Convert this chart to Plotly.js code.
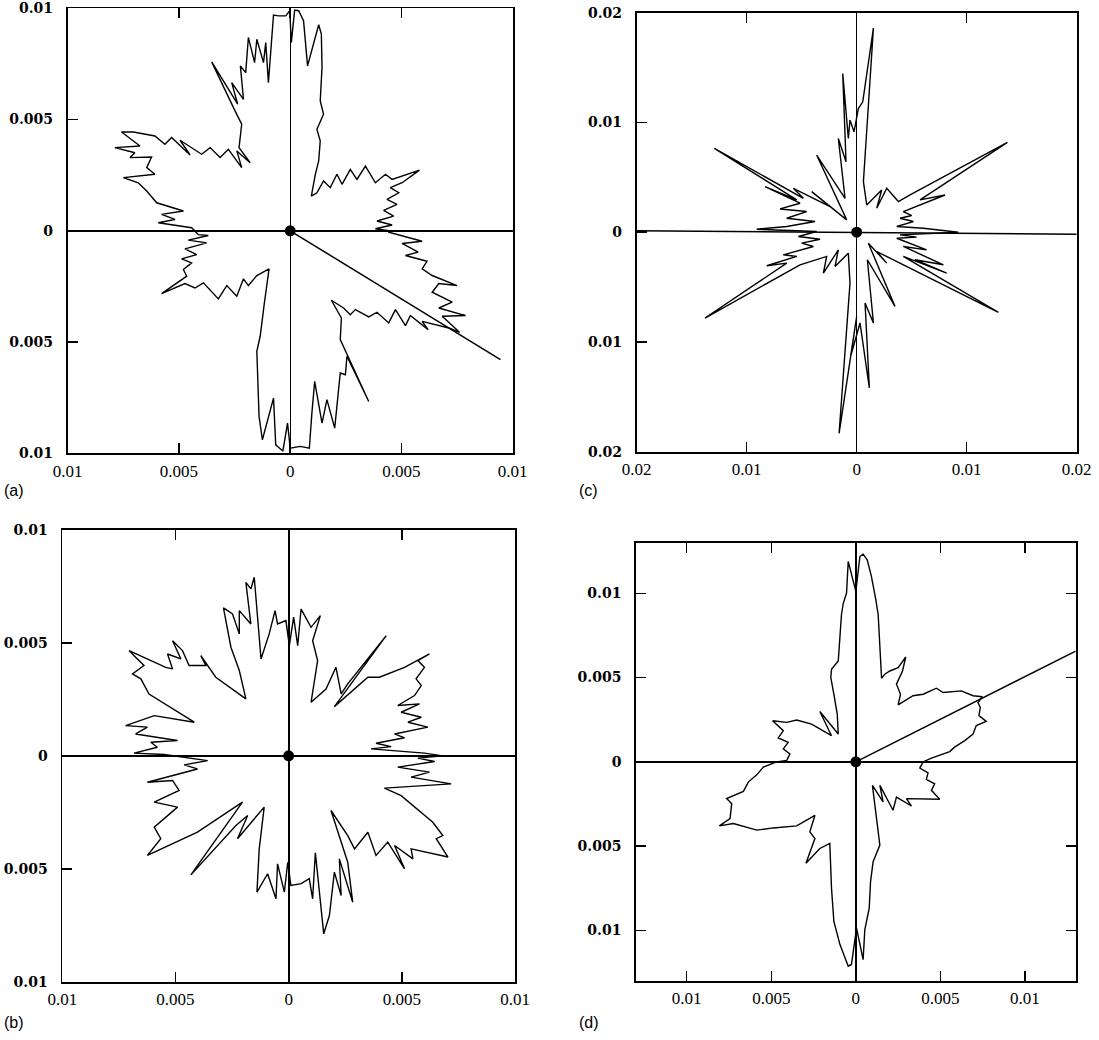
<!DOCTYPE html>
<html>
<head>
<meta charset="utf-8">
<script src="https://cdn.plot.ly/plotly-3.0.1.min.js"></script>
<style>html,body{margin:0;padding:0;background:#fff;}#chart{width:1099px;height:1040px;}</style>
</head>
<body>
<div id="chart"></div>
<script>
// ---------------- data: panel (a) ----------------
const aX = [
0.00443,0.00383,0.00458,0.0039,0.00465,0.0042,0.0048,0.00435,0.00488,0.0045,
0.00503,0.00581,0.00458,0.00428,0.00383,0.00338,0.003,0.0027,0.00233,0.0021,
0.0018,0.0015,0.0012,0.00095,0.00113,0.00128,0.00135,0.0012,0.0015,0.00135,
0.00143,0.0014,0.00128,0.00078,0.0006,0.00038,0.0002,0.00005,-0.00002,-0.0002,
-0.00053,-0.00075,-0.00098,-0.0011,-0.0012,-0.0015,-0.0016,-0.00188,-0.002,-0.00224,
-0.0021,-0.00263,-0.00236,-0.00353,-0.00248,-0.00218,-0.0023,-0.0018,-0.0024,-0.00218,
-0.00278,-0.00315,-0.0036,-0.00398,-0.00495,-0.0045,-0.00533,-0.00563,-0.00608,-0.00705,
-0.00758,-0.00675,-0.00788,-0.00698,-0.0072,-0.00623,-0.00645,-0.00608,-0.0075,-0.00683,
-0.00645,-0.006,-0.0048,-0.00578,-0.00518,-0.00593,-0.00443,-0.00413,
-0.00368,-0.00458,-0.00375,-0.00473,-0.0042,-0.00488,-0.00443,-0.0048,-0.00465,-0.00578,
-0.00473,-0.00428,-0.0039,-0.00323,-0.00285,-0.0024,-0.0021,-0.00188,-0.0015,-0.00095,
-0.00116,-0.00135,-0.0015,-0.00146,-0.0014,-0.00125,-0.00075,-0.00065,-0.00033,-0.00012,
0,0.00045,0.00086,0.00098,0.0011,0.00143,0.00165,0.002,0.00215,0.00225,
0.00248,0.00255,0.00353,0.00225,0.0023,0.00185,0.0024,0.0027,0.00293,0.00353,
0.0039,0.00443,0.00473,0.00518,0.0054,0.0062,0.00593,0.00713,0.00761,0.00683,
0.00788,0.00668,0.00728,0.00638,0.00668,0.0075,0.00638,0.00593,0.00615,0.00518,
0.00575,0.00503,0.00593,0.00443,0.00443];
const aY = [
0,0.00009,0.00026,0.00044,0.00066,0.00092,0.00119,0.00141,0.00171,0.00194,
0.00216,0.00273,0.00231,0.00254,0.00216,0.00291,0.00231,0.00276,0.00209,0.00254,
0.00194,0.00224,0.00171,0.00156,0.00254,0.00314,0.00404,0.00456,0.00524,0.00584,
0.00734,0.00884,0.00926,0.00741,0.00944,0.00989,0.00992,0.00846,0.00989,0.00966,
0.00966,0.0097,0.00666,0.00846,0.00756,0.00861,0.00756,0.00869,0.00711,0.00741,
0.00591,0.00666,0.00569,0.00759,0.00539,0.00479,0.00374,0.00306,0.00359,0.00284,
0.00366,0.00329,0.00374,0.00344,0.00407,0.00341,0.00419,0.00389,0.00426,0.00444,
0.00444,0.00381,0.00374,0.00351,0.00329,0.00332,0.00284,0.00254,0.00239,0.00216,
0.00179,0.00126,0.00089,0.00074,0.00051,0.00036,0.00014,-0.00017,
-0.00021,-0.00042,-0.00054,-0.00081,-0.00107,-0.00126,-0.00144,-0.00174,-0.00204,-0.00282,
-0.00237,-0.00257,-0.00234,-0.00306,-0.00246,-0.00294,-0.00216,-0.00246,-0.00201,-0.00171,
-0.00324,-0.00474,-0.00542,-0.00699,-0.00834,-0.00939,-0.00752,-0.00962,-0.0099,-0.00864,
-0.00977,-0.00969,-0.00977,-0.00812,-0.00677,-0.00864,-0.00759,-0.00887,-0.00729,-0.00639,
-0.00647,-0.00564,-0.00767,-0.00489,-0.00392,-0.00312,-0.00347,-0.00377,-0.00354,-0.00387,
-0.00366,-0.00414,-0.00354,-0.00426,-0.00381,-0.00444,-0.00407,-0.00437,-0.00456,-0.00384,
-0.00381,-0.00347,-0.00321,-0.00276,-0.00237,-0.00246,-0.00201,-0.00171,-0.00137,-0.00111,
-0.00096,-0.00057,-0.00047,-0.00006,0];
const aRayX = [0, 0.00945];
const aRayY = [0, -0.00579];

// ---------------- data: panel (b) ----------------
const bX = [
0.00681,0.006,0.00364,0.00453,0.00386,0.00512,0.00468,0.00615,0.00527,0.00586,
0.00497,0.00578,0.00482,0.00556,0.00586,0.00563,0.006,0.00571,0.00622,0.00512,
0.00401,0.0035,0.00202,0.00431,0.00261,0.00232,0.00209,0.00165,0.00099,0.00128,
0.00106,0.0014,0.00099,0.00055,0.0004,0.00022,0.00003,-0.00012,-0.00049,-0.0006,
-0.00086,-0.00122,-0.00152,-0.00167,-0.00189,-0.00167,-0.00218,-0.00218,-0.00248,-0.00288,
-0.00255,-0.00218,-0.00189,-0.00322,-0.00388,-0.00366,-0.0044,-0.00469,-0.00513,-0.00476,
-0.00535,-0.00513,-0.00543,-0.00705,-0.00676,-0.00639,-0.0069,-0.00653,-0.00617,-0.00521,
-0.00417,-0.00594,-0.0072,-0.00624,-0.00676,-0.00491,-0.00609,-0.0058,-0.00683,-0.0055,
-0.00358,-0.00462,-0.00403,-0.00624,-0.00513,-0.00484,-0.00594,-0.00491,-0.00594,-0.00565,
-0.00624,-0.00403,-0.00255,-0.00204,-0.00432,-0.00329,-0.00233,-0.00181,-0.00226,-0.00108,
-0.0013,-0.0014,-0.00093,-0.00056,-0.00049,-0.00019,-0.00004,0.0001,0.00055,0.00091,
0.00106,0.00118,0.00155,0.0018,0.00202,0.00232,0.00224,0.00283,0.00261,0.00187,
0.00261,0.00291,0.0035,0.00386,0.00438,0.00512,0.00468,0.00549,0.00541,0.00704,
0.00652,0.00681,0.00637,0.00497,0.00423,0.00718,0.00541,0.00622,0.00482,0.00645,
0.00571,0.00681];
const bY = [
0,0.00012,0.00031,0.00041,0.00056,0.0008,0.00097,0.00127,0.00149,0.00171,
0.00193,0.0023,0.00223,0.00267,0.00311,0.00341,0.00392,0.00422,0.00451,0.00392,
0.00348,0.00348,0.00218,0.00532,0.00319,0.00274,0.00392,0.00296,0.00237,0.00422,
0.0051,0.00621,0.00569,0.0065,0.00488,0.00614,0.00488,0.00599,0.00584,0.00643,
0.0054,0.00429,0.00791,0.00739,0.00768,0.00584,0.00643,0.0054,0.00628,0.00655,
0.00481,0.00378,0.00252,0.00348,0.00444,0.004,0.004,0.00466,0.0051,0.00429,
0.00451,0.00385,0.00392,0.00466,0.00437,0.004,0.00363,0.00341,0.00274,0.00215,
0.00149,0.00178,0.00134,0.00127,0.00097,0.00068,0.0006,0.00038,0.00012,0.00006,
-0.00021,-0.0004,-0.00058,-0.00117,-0.00109,-0.00153,-0.00205,-0.00227,-0.00316,-0.00367,
-0.00441,-0.00338,-0.00242,-0.00205,-0.00527,-0.00412,-0.00308,-0.00264,-0.00367,-0.00227,
-0.00412,-0.00603,-0.00522,-0.00633,-0.00478,-0.00603,-0.00471,-0.00574,-0.00566,-0.00544,
-0.00633,-0.00429,-0.00788,-0.00707,-0.00515,-0.00618,-0.00456,-0.00648,-0.00471,-0.00242,
-0.00353,-0.00412,-0.00338,-0.00441,-0.00382,-0.005,-0.00397,-0.00456,-0.00412,-0.00448,
-0.00367,-0.00353,-0.00294,-0.00176,-0.00143,-0.00124,-0.00094,-0.00072,-0.0005,-0.00025,
-0.0001,0];

// ---------------- data: panel (c) ----------------
const cX = [
0.00924,0.00606,0.00364,0.00515,0.00394,0.005,0.00424,0.00606,0.00803,0.00576,
0.0137,0.00485,0.00379,0.00273,0.00182,0.00227,0.00091,0.00061,0.00152,0.00055,
0.00015,-0.00024,-0.00061,-0.00076,-0.00127,-0.00097,-0.00167,-0.00106,-0.00303,-0.00364,
-0.00091,-0.00409,-0.00242,-0.00576,-0.00485,-0.01294,-0.00545,-0.00833,-0.00515,-0.00697,
-0.00455,-0.00636,-0.00379,-0.00636,-0.00909,-0.00364,-0.0053,-0.00333,-0.005,-0.00394,
-0.00667,-0.00545,-0.00818,-0.00636,-0.01379,-0.00515,-0.00273,-0.00303,-0.00167,-0.00197,
-0.00076,-0.00061,-0.0016,0,-0.00055,0.0003,0.00115,0.00076,0.00152,0.00097,
0.00348,0.00106,0.00273,0.00182,0.01288,0.00424,0.00818,0.0053,0.00788,0.00424,
0.00636,0.00364,0.00545,0.00394,0.00924];
const cY = [
0,0.00036,0.00052,0.00097,0.00127,0.00152,0.00188,0.00264,0.00339,0.00294,
0.00818,0.00339,0.00279,0.004,0.00218,0.00385,0.00248,0.00461,0.0186,0.01188,
0.01127,0.00915,0.01021,0.00854,0.01445,0.00642,0.00854,0.00309,0.00612,0.00703,
0.00112,0.0037,0.00233,0.004,0.00309,0.00764,0.00294,0.00415,0.00264,0.00212,
0.00188,0.00127,0.00097,0.00052,0.00027,0.00006,-0.00039,-0.00064,-0.001,-0.0013,
-0.00206,-0.00221,-0.00306,-0.00282,-0.00782,-0.00297,-0.00221,-0.00373,-0.00161,-0.00312,
-0.00191,-0.00464,-0.01833,-0.00767,-0.0113,-0.00827,-0.01418,-0.00645,-0.00827,-0.00251,
-0.00676,-0.001,-0.00282,-0.00176,-0.0073,-0.00221,-0.00373,-0.00251,-0.00297,-0.0013,
-0.00161,-0.00055,-0.00045,-0.00024,0];
const cRayX = [-0.02, 0.02];
const cRayY = [0.00014, -0.00018];

// ---------------- data: panel (d) ----------------
const dX = [
0.00398,0.00447,0.00555,0.00584,0.00644,0.00693,0.00712,0.00771,0.00728,0.00736,
0.00722,0.00748,0.00693,0.00624,0.00516,0.00476,0.00398,0.00338,0.0025,0.00264,
0.0024,0.00276,0.00295,0.0025,0.00201,0.00171,0.00152,0.00142,0.00132,0.00118,
0.00092,0.00067,0.00043,0.00024,0,-0.0002,-0.00045,-0.00055,-0.00075,-0.00085,
-0.00094,-0.00104,-0.00144,-0.00148,-0.0013,-0.0011,-0.00104,-0.00213,-0.00144,-0.00262,
-0.0035,-0.00409,-0.00492,-0.00429,-0.00459,-0.004,-0.00429,-0.0039,-0.00409,-0.00468,
-0.00547,-0.00586,-0.00636,-0.00665,-0.00764,-0.00734,-0.00744,-0.00807,-0.00724,-0.00646,
-0.00586,-0.00488,-0.00409,-0.0035,-0.00291,-0.00242,-0.00272,-0.00242,-0.00295,-0.00213,
-0.00154,-0.00144,-0.0013,-0.00094,-0.00045,-0.00026,0.00004,0.00043,0.00053,0.00079,
0.00087,0.00102,0.00142,0.00118,0.00098,0.00161,0.00142,0.0022,0.0024,0.00329,
0.00299,0.00496,0.00447,0.00466,0.00417,0.00427,0.00378,0.00398];
const dY = [
0,0.00022,0.00061,0.00087,0.00126,0.00165,0.00215,0.0024,0.00274,0.00323,
0.00352,0.00386,0.00392,0.00421,0.00411,0.00437,0.00401,0.00392,0.00338,0.00401,
0.00461,0.00539,0.00622,0.00559,0.00539,0.0052,0.00496,0.00677,0.00874,0.00962,
0.011,0.01199,0.01232,0.01218,0.01012,0.0109,0.01189,0.01002,0.00937,0.00874,
0.00716,0.00598,0.00549,0.005,0.00401,0.00283,0.00165,0.00299,0.00155,0.00224,
0.00248,0.00234,0.00244,0.00185,0.00142,0.00116,0.00077,0.00047,0.00008,0,
-0.00031,-0.00077,-0.0012,-0.00175,-0.00218,-0.00248,-0.00337,-0.0038,-0.00366,-0.00386,
-0.00405,-0.00392,-0.00386,-0.0038,-0.00346,-0.00317,-0.00415,-0.00455,-0.00602,-0.00514,
-0.00484,-0.0075,-0.00947,-0.01084,-0.01212,-0.01202,-0.00986,-0.01173,-0.00996,-0.00868,
-0.0071,-0.00592,-0.00494,-0.00287,-0.0014,-0.00238,-0.0014,-0.00287,-0.00209,-0.00262,
-0.00218,-0.00222,-0.00169,-0.0013,-0.00104,-0.00065,-0.00037,0];
const dRayX = [0, 0.013];
const dRayY = [0, 0.00657];

const originX = [0];
const originY = [0];

// ---------------- ticks and labels ----------------
const tickVals01 = [-0.01, -0.005, 0, 0.005, 0.01];
const tickText01 = ['0.01', '0.005', '0', '0.005', '0.01'];
const tickVals02 = [-0.02, -0.01, 0, 0.01, 0.02];
const tickText02 = ['0.02', '0.01', '0', '0.01', '0.02'];
const panelLabels = ['(a)', '(b)', '(c)', '(d)'];

// ---------------- figure ----------------
const W = 1099, H = 1040;
function px(x) { return x / W; }
function py(y) { return 1 - y / H; }

const curveLine = {color: '#000', width: 1.4};
function curve(x, y, ax) {
  return {x: x, y: y, xaxis: 'x' + ax, yaxis: 'y' + ax, type: 'scatter', mode: 'lines',
          line: curveLine, hoverinfo: 'skip'};
}
function ray(x, y, ax) {
  return {x: x, y: y, xaxis: 'x' + ax, yaxis: 'y' + ax, type: 'scatter', mode: 'lines',
          line: {color: '#000', width: 1.5}, hoverinfo: 'skip'};
}
function dot(ax) {
  return {x: originX, y: originY, xaxis: 'x' + ax, yaxis: 'y' + ax, type: 'scatter', mode: 'markers',
          marker: {color: '#000', size: 11}, hoverinfo: 'skip'};
}
const traces = [
  curve(aX, aY, ''), ray(aRayX, aRayY, ''), dot(''),
  curve(cX, cY, '2'), ray(cRayX, cRayY, '2'), dot('2'),
  curve(bX, bY, '3'), dot('3'),
  curve(dX, dY, '4'), ray(dRayX, dRayY, '4'), dot('4')
];

function xAxis(domain, range, tv, tt, anchor, zlw) {
  return {domain: domain, range: range, anchor: anchor, tickmode: 'array', tickvals: tv, ticktext: tt,
    ticks: 'inside', ticklen: 10, tickwidth: 1.5, tickcolor: '#000', showline: true, linecolor: '#000',
    linewidth: 1.8, mirror: 'ticks', showgrid: false, zeroline: zlw > 0, zerolinecolor: '#000',
    zerolinewidth: zlw, ticklabelstandoff: 1, ticklabeloverflow: 'allow',
    tickfont: {family: 'Liberation Serif, Times New Roman, serif', size: 17, color: '#000'},
    fixedrange: true};
}
function yAxis(domain, range, tv, tt, anchor, zlw, mirrorTicks) {
  return {domain: domain, range: range, anchor: anchor, tickmode: 'array', tickvals: tv, ticktext: tt,
    ticks: 'inside', ticklen: 10, tickwidth: 1.5, tickcolor: '#000', showline: true, linecolor: '#000',
    linewidth: 1.8, mirror: mirrorTicks ? 'ticks' : true, showgrid: false, zeroline: zlw > 0,
    zerolinecolor: '#000', zerolinewidth: zlw, ticklabelstandoff: 10, ticklabeloverflow: 'allow',
    tickfont: {family: 'DejaVu Serif, serif', size: 14, color: '#000', weight: 'bold'},
    fixedrange: true};
}

const layout = {
  width: W, height: H, margin: {l: 0, r: 0, t: 0, b: 0}, paper_bgcolor: '#fff', plot_bgcolor: '#fff',
  showlegend: false, hovermode: false,
  xaxis:  xAxis([px(67.7), px(512.7)], [-0.01, 0.01], tickVals01, tickText01, 'y', 1.4),
  yaxis:  yAxis([py(453.3), py(8.3)], [-0.01, 0.01], tickVals01, tickText01, 'x', 2.4, false),
  xaxis2: xAxis([px(636.7), px(1076.7)], [-0.02, 0.02], tickVals02, tickText02, 'y2', 1.5),
  yaxis2: yAxis([py(451.7), py(12.7)], [-0.02, 0.02], tickVals02, tickText02, 'x2', 0, false),
  xaxis3: xAxis([px(62.3), px(515)], [-0.01, 0.01], tickVals01, tickText01, 'y3', 1.9),
  yaxis3: yAxis([py(981.7), py(530)], [-0.01, 0.01], tickVals01, tickText01, 'x3', 1.7, false),
  xaxis4: xAxis([px(636), px(1075.7)], [-0.013, 0.013], tickVals01, tickText01, 'y4', 1.9),
  yaxis4: yAxis([py(981), py(542.7)], [-0.013, 0.013], tickVals01, tickText01, 'x4', 2, true),
  annotations: [
    {text: panelLabels[0], x: px(2), y: py(490), xref: 'paper', yref: 'paper', xanchor: 'left', yanchor: 'middle', showarrow: false,
     font: {family: 'Liberation Sans, Arial, sans-serif', size: 16, color: '#000'}},
    {text: panelLabels[1], x: px(2), y: py(1022), xref: 'paper', yref: 'paper', xanchor: 'left', yanchor: 'middle', showarrow: false,
     font: {family: 'Liberation Sans, Arial, sans-serif', size: 16, color: '#000'}},
    {text: panelLabels[2], x: px(577), y: py(490), xref: 'paper', yref: 'paper', xanchor: 'left', yanchor: 'middle', showarrow: false,
     font: {family: 'Liberation Sans, Arial, sans-serif', size: 16, color: '#000'}},
    {text: panelLabels[3], x: px(577), y: py(1022), xref: 'paper', yref: 'paper', xanchor: 'left', yanchor: 'middle', showarrow: false,
     font: {family: 'Liberation Sans, Arial, sans-serif', size: 16, color: '#000'}}
  ]
};

Plotly.newPlot('chart', traces, layout, {staticPlot: true, displayModeBar: false});
</script>
</body>
</html>
